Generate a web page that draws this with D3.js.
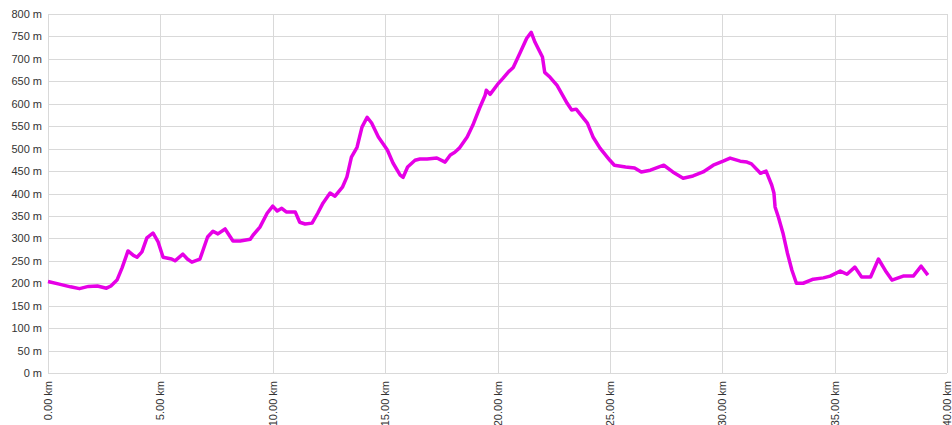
<!DOCTYPE html>
<html>
<head>
<meta charset="utf-8">
<script src="https://cdn.jsdelivr.net/npm/d3@7"></script>
<style>
  body { margin: 0; background: #fff; }
  svg text { font-family: "Liberation Sans", Arial, sans-serif; font-size: 11px; fill: #333; }
</style>
</head>
<body>
<div id="chart"></div>
<script>
// distance along the route (km)
var dist = [0, 0.5, 1.0, 1.4, 1.8, 2.2, 2.6, 2.8, 3.07, 3.3, 3.56, 3.8, 3.96, 4.18, 4.4, 4.67, 4.9, 5.12,
            5.5, 5.65, 6.0, 6.2, 6.4, 6.76, 6.9, 7.1, 7.34, 7.56, 7.88, 8.23, 8.55, 9.0, 9.12, 9.43,
            9.75, 10.0, 10.2, 10.4, 10.6, 11.0, 11.2, 11.44, 11.75, 12.0, 12.24, 12.55, 12.77, 13.0,
            13.1, 13.3, 13.5, 13.75, 13.97, 14.2, 14.4, 14.7, 15.1, 15.35, 15.67, 15.8, 16.0, 16.33,
            16.55, 16.87, 17.3, 17.67, 17.9, 18.1, 18.3, 18.65, 18.9, 19.2, 19.45, 19.5, 19.67, 20.0,
            20.25, 20.47, 20.7, 21.0, 21.3, 21.5, 21.67, 22.0, 22.1, 22.34, 22.65, 23.1, 23.3, 23.5,
            24.0, 24.25, 24.56, 25.0, 25.2, 25.7, 26.1, 26.4, 26.8, 27.4, 27.8, 28.26, 28.7, 29.15,
            29.6, 30.04, 30.35, 30.8, 31.1, 31.3, 31.7, 31.95, 32.2, 32.3, 32.35, 32.5, 32.7, 32.9,
            33.1, 33.3, 33.6, 34.05, 34.5, 34.8, 35.25, 35.55, 35.9, 36.2, 36.6, 36.95, 37.3, 37.55,
            38.05, 38.5, 38.85, 39.15];
// elevation (m)
var elev = [204, 198, 192, 188, 193, 194, 189, 194, 207, 235, 272, 262, 258, 270, 301, 312, 292, 258,
            254, 250, 265, 254, 247, 254, 274, 303, 316, 310, 321, 294, 294, 298, 307, 325,
            356, 372, 361, 367, 359, 359, 336, 332, 334, 356, 379, 401, 394, 408,
            414, 437, 481, 503, 548, 570, 557, 526, 497, 468, 441, 436, 459, 474,
            477, 477, 479, 470, 486, 492, 501, 526, 552, 590, 619, 630, 621, 643,
            657, 670, 681, 713, 746, 759, 737, 704, 670, 659, 641, 601, 586, 588,
            557, 526, 501, 474, 463, 459, 457, 448, 452, 463, 448, 434, 439, 448,
            463, 472, 479, 472, 470, 466, 445, 450, 419, 401, 370, 347, 312, 267,
            229, 200, 200, 209, 212, 216, 227, 220, 236, 214, 214, 254, 225, 207,
            216, 216, 238, 218];
var yTicks = [0, 50, 100, 150, 200, 250, 300, 350, 400, 450, 500, 550, 600, 650, 700, 750, 800];
var xTicks = [0, 5, 10, 15, 20, 25, 30, 35, 40];

var W = 952, H = 425;
var margin = { left: 48, right: 5, top: 14, bottom: 52 };

var svg = d3.select("#chart").append("svg")
    .attr("width", W)
    .attr("height", H);

var x = d3.scaleLinear().domain([0, 40]).range([margin.left, W - margin.right]);
var y = d3.scaleLinear().domain([0, 800]).range([H - margin.bottom, margin.top]);

// horizontal grid
svg.append("g").selectAll("line")
    .data(yTicks)
    .enter().append("line")
    .attr("x1", margin.left).attr("x2", W - margin.right)
    .attr("y1", function(d) { return Math.round(y(d)) + 0.5; })
    .attr("y2", function(d) { return Math.round(y(d)) + 0.5; })
    .attr("stroke", "#d9d9d9");

// vertical grid
svg.append("g").selectAll("line")
    .data(xTicks)
    .enter().append("line")
    .attr("x1", function(d) { return Math.round(x(d)) + 0.5; })
    .attr("x2", function(d) { return Math.round(x(d)) + 0.5; })
    .attr("y1", margin.top).attr("y2", H - margin.bottom)
    .attr("stroke", "#d9d9d9");

// y labels
svg.append("g").selectAll("text")
    .data(yTicks)
    .enter().append("text")
    .attr("x", margin.left - 6)
    .attr("y", function(d) { return y(d) + 4; })
    .attr("text-anchor", "end")
    .text(function(d) { return d + " m"; });

// x labels, rotated
svg.append("g").selectAll("text")
    .data(xTicks)
    .enter().append("text")
    .attr("text-anchor", "end")
    .attr("transform", function(d) {
        return "translate(" + (x(d) + 4) + "," + (H - margin.bottom + 8) + ") rotate(-90)";
    })
    .text(function(d) { return d.toFixed(2) + " km"; });

var line = d3.line()
    .x(function(d, i) { return x(dist[i]); })
    .y(function(d) { return y(d); });

svg.append("path")
    .datum(elev)
    .attr("d", line)
    .attr("fill", "none")
    .attr("stroke", "#e600e6")
    .attr("stroke-width", 3.5)
    .attr("stroke-linejoin", "round");
</script>
</body>
</html>
